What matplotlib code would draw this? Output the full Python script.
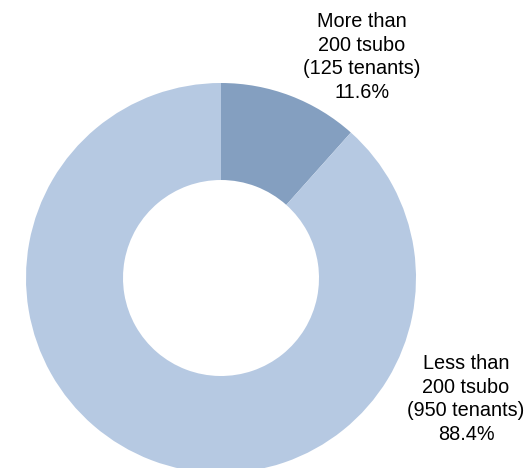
import matplotlib
matplotlib.use("Agg")
import matplotlib.pyplot as plt

# data
labels = ["More than\n200 tsubo\n(125 tenants)", "Less than\n200 tsubo\n(950 tenants)"]
tenants = [125, 950]
shares = [11.6, 88.4]
colors = ["#849FC0", "#B6C9E2"]

plt.rcParams['font.family'] = ['Liberation Sans', 'DejaVu Sans']

fig = plt.figure(figsize=(5.28, 4.68), dpi=100)
fig.patch.set_facecolor('white')
ax = fig.add_axes([0, 0, 1, 1])

# pixel-based coordinates, origin bottom-left
cx, cy = 221, 468 - 278
r_out = 195
wedges, _ = ax.pie(shares, colors=colors, startangle=90, counterclock=False,
                   radius=r_out, center=(cx, cy),
                   wedgeprops=dict(width=r_out - 98, linewidth=0))

ax.set_xlim(0, 528)
ax.set_ylim(0, 468)
ax.set_aspect('auto')
ax.axis('off')

# labels
label_pos = [(362, 468 - 57), (466, 468 - 399)]
for lab, pct, (x, y) in zip(labels, shares, label_pos):
    ax.text(x, y, f"{lab}\n{pct:.1f}%", ha='center', va='center',
            multialignment='center', fontsize=14.3, linespacing=1.32,
            color='#000000')

fig.savefig("out.png", dpi=100, facecolor='white')
